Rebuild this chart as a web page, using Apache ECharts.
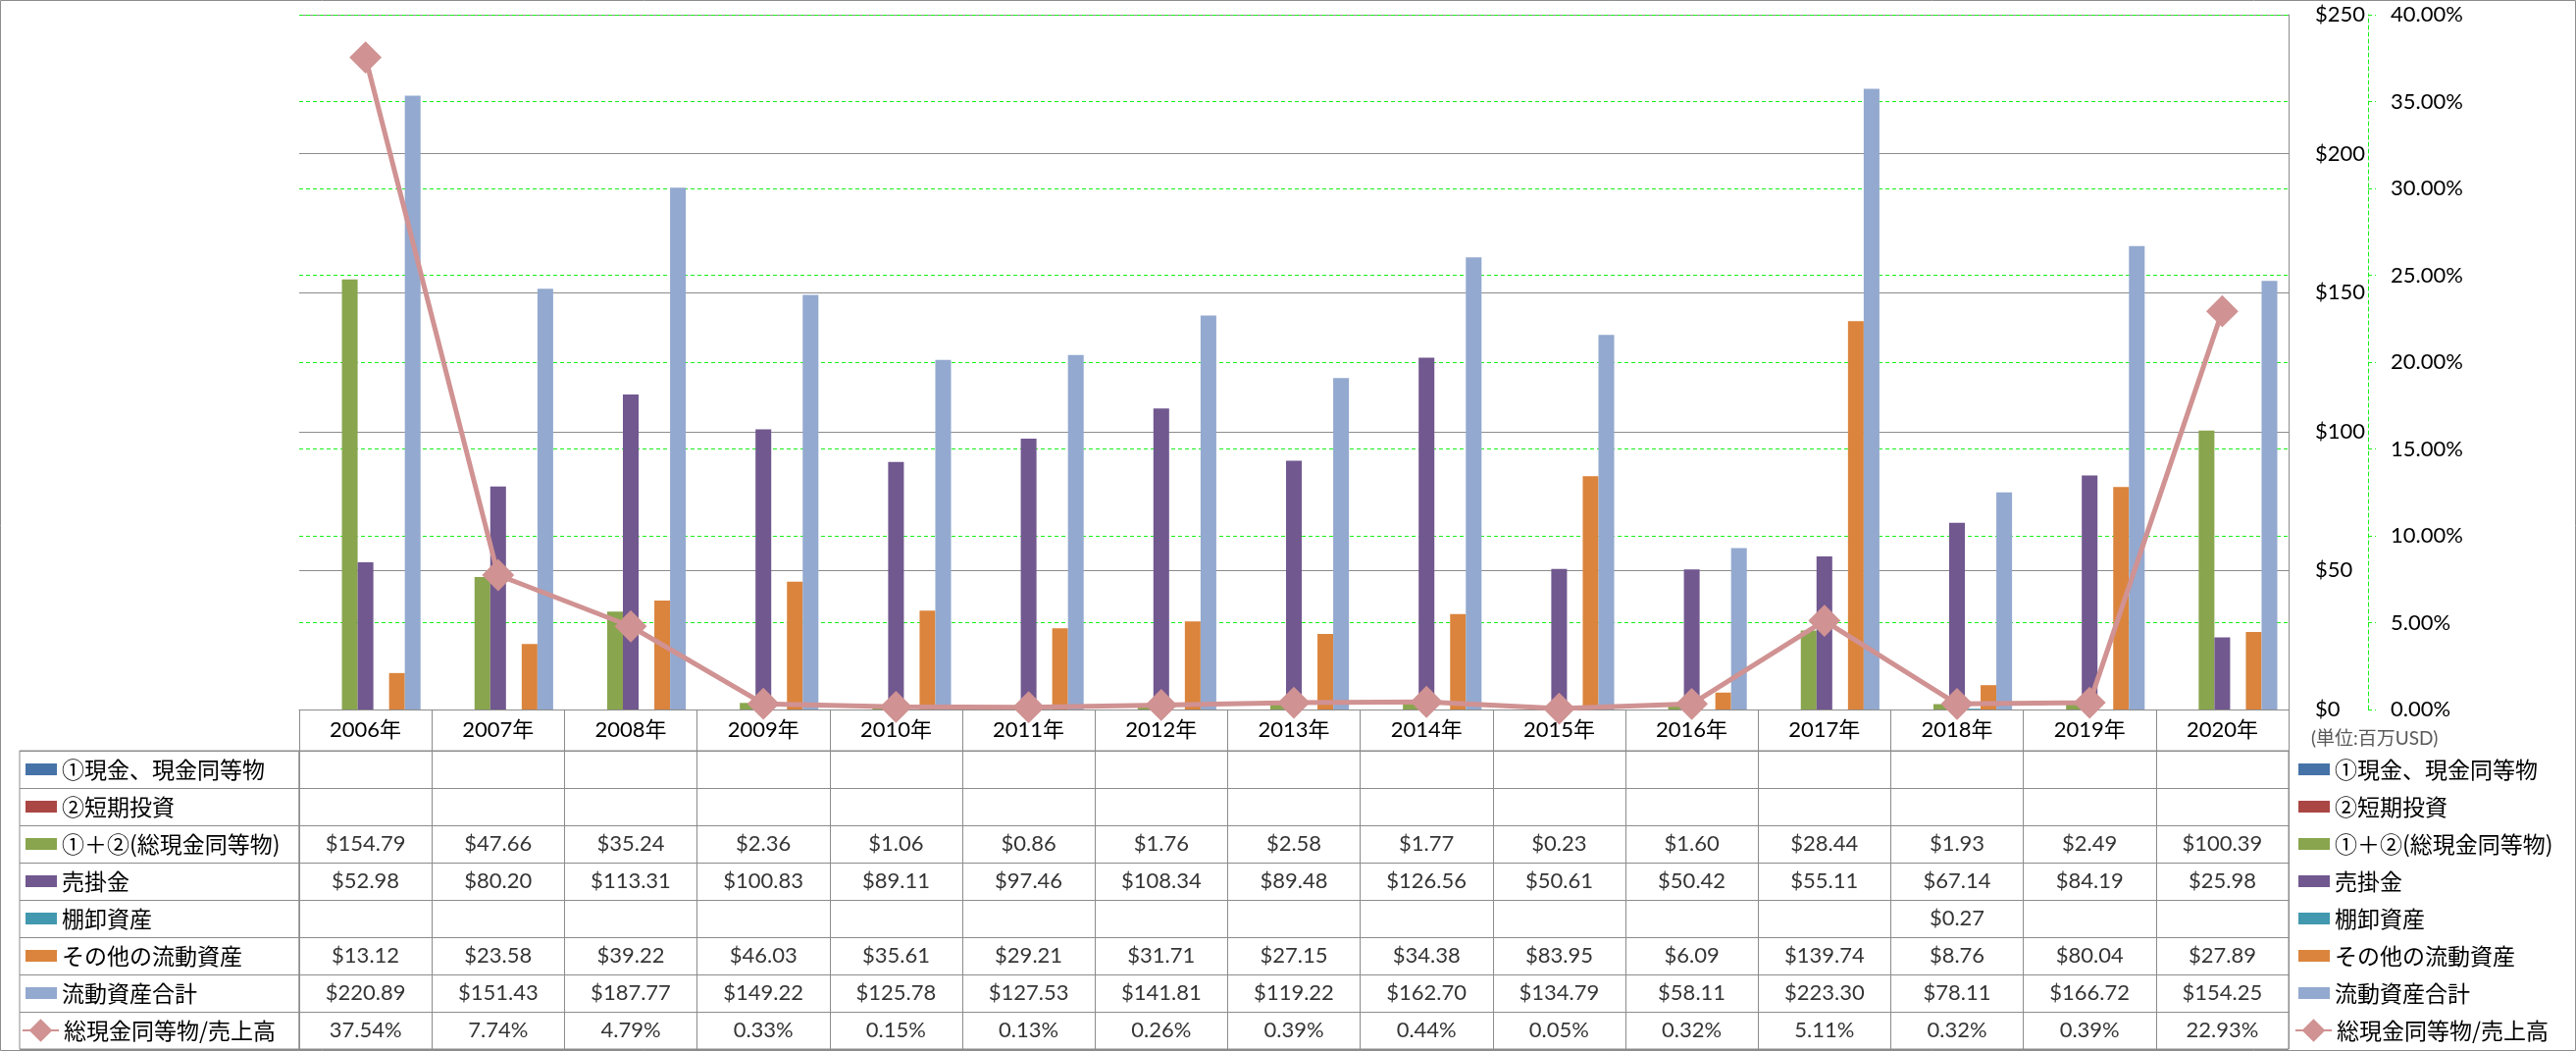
<!DOCTYPE html>
<html><head><meta charset="utf-8">
<script src="https://cdn.jsdelivr.net/npm/echarts@6/dist/echarts.min.js"></script>
<style>html,body{margin:0;padding:0;background:#fff}#c{width:2626px;height:1071px}</style>
</head><body><div id="c"></div>
<script>
const years = ['2006年','2007年','2008年','2009年','2010年','2011年','2012年','2013年','2014年','2015年','2016年','2017年','2018年','2019年','2020年'];
const names = ['①現金、現金同等物','②短期投資','①＋②(総現金同等物)','売掛金','棚卸資産','その他の流動資産','流動資産合計','総現金同等物/売上高'];
const cash        = [null,null,null,null,null,null,null,null,null,null,null,null,null,null,null];
const shortInv    = [null,null,null,null,null,null,null,null,null,null,null,null,null,null,null];
const totalCash   = [154.79,47.66,35.24,2.36,1.06,0.86,1.76,2.58,1.77,0.23,1.60,28.44,1.93,2.49,100.39];
const receivables = [52.98,80.20,113.31,100.83,89.11,97.46,108.34,89.48,126.56,50.61,50.42,55.11,67.14,84.19,25.98];
const inventory   = [null,null,null,null,null,null,null,null,null,null,null,null,0.27,null,null];
const otherCA     = [13.12,23.58,39.22,46.03,35.61,29.21,31.71,27.15,34.38,83.95,6.09,139.74,8.76,80.04,27.89];
const totalCA     = [220.89,151.43,187.77,149.22,125.78,127.53,141.81,119.22,162.70,134.79,58.11,223.30,78.11,166.72,154.25];
const ratio       = [37.54,7.74,4.79,0.33,0.15,0.13,0.26,0.39,0.44,0.05,0.32,5.11,0.32,0.39,22.93];
const dollarAxis = {min: 0, max: 250, interval: 50};
const pctAxis = {min: 0, max: 40, interval: 5};
const unitLabel = '(単位:百万USD)';

const colors = ['#4572A7','#AA4643','#89A54E','#71588F','#4198AF','#DB843D','#93A9CF'];
const lineColor = '#D09292';
const barData = [cash, shortInv, totalCash, receivables, inventory, otherCA, totalCA];
const rows = barData.concat([ratio]);

const cjk = "Lato, 'Noto Sans CJK JP', sans-serif";
const gridGray = '#8C8C8C';
const green = '#19F019';

const tableData = [];
rows.forEach((arr, r) => {
  arr.forEach((v, c) => {
    if (v !== null && v !== undefined) {
      tableData.push({value: [c, r], txt: r === 7 ? v.toFixed(2) + '%' : '$' + v.toFixed(2)});
    }
  });
});

const series = barData.map((arr, i) => ({
  name: names[i], type: 'bar', xAxisIndex: 0, yAxisIndex: 0,
  data: arr, barGap: '0%', barCategoryGap: '17%',
  itemStyle: {color: colors[i]}, z: 2
}));
series.push({
  name: names[7], type: 'line', xAxisIndex: 0, yAxisIndex: 1, data: ratio,
  symbol: 'diamond', symbolSize: [30, 30],
  lineStyle: {color: lineColor, width: 5},
  itemStyle: {color: lineColor, borderColor: lineColor, borderWidth: 2},
  z: 5
});
series.push({
  name: '_table', type: 'scatter', xAxisIndex: 1, yAxisIndex: 2,
  data: tableData, symbolSize: 0, silent: true,
  label: {show: true, position: 'inside', formatter: p => p.data.txt,
    color: '#000', fontSize: 22, fontFamily: cjk}
});

const legTxt = {fontSize: 23, lineHeight: 38, color: '#000', fontFamily: "'Noto Sans CJK JP', sans-serif"};
function barLegend(left) {
  return {data: names.slice(0, 7), orient: 'vertical', left: left, top: 765, itemWidth: 32, itemHeight: 12,
    itemGap: 0, padding: 0, icon: 'rect', textStyle: legTxt, selectedMode: false};
}
function lineLegend(left) {
  return {data: [names[7]], orient: 'vertical', left: left, top: 1031, itemWidth: 37, itemHeight: 26,
    itemGap: 0, padding: 0, textStyle: legTxt, selectedMode: false};
}

const option = {
  animation: false,
  backgroundColor: '#fff',
  title: {text: unitLabel, left: 2356, top: 743, padding: 0,
    textStyle: {fontSize: 19, fontWeight: 'normal', color: '#595959', fontFamily: cjk}},
  legend: [barLegend(26), lineLegend(22), barLegend(2343), lineLegend(2339)],
  grid: [
    {left: 305, right: 293, top: 15, bottom: 348},
    {left: 305, right: 293, top: 765, height: 304, show: true, borderColor: gridGray, borderWidth: 1},
    {left: 20, width: 285, top: 765, height: 304, show: true, borderColor: gridGray, borderWidth: 1}
  ],
  xAxis: [
    {type: 'category', gridIndex: 0, data: years, boundaryGap: true,
      axisLine: {show: true, lineStyle: {color: gridGray}},
      axisTick: {show: true, interval: 0, length: 42, lineStyle: {color: gridGray}},
      axisLabel: {interval: 0, margin: 10, fontSize: 22, color: '#000', fontFamily: cjk},
      splitLine: {show: false}},
    {type: 'category', gridIndex: 1, data: years, boundaryGap: true,
      axisLine: {show: false}, axisTick: {show: false}, axisLabel: {show: false},
      splitLine: {show: true, interval: 0, lineStyle: {color: gridGray}}},
    {type: 'category', gridIndex: 2, data: [''], show: false}
  ],
  yAxis: [
    {type: 'value', gridIndex: 0, position: 'right', min: dollarAxis.min, max: dollarAxis.max, interval: dollarAxis.interval,
      axisLine: {show: true, lineStyle: {color: gridGray}}, axisTick: {show: false},
      axisLabel: {margin: 27, fontSize: 22, color: '#000', fontFamily: cjk, formatter: v => '$' + v},
      splitLine: {show: true, lineStyle: {color: gridGray, width: 1}}},
    {type: 'value', gridIndex: 0, position: 'right', offset: 81, min: pctAxis.min, max: pctAxis.max, interval: pctAxis.interval,
      axisLine: {show: true, lineStyle: {color: green, type: [4, 3]}},
      axisTick: {show: true, inside: false, length: 8, lineStyle: {color: green, type: [4, 3]}},
      axisLabel: {margin: 23, fontSize: 22, color: '#000', fontFamily: cjk, formatter: v => v.toFixed(2) + '%'},
      splitLine: {show: true, lineStyle: {color: green, width: 1, type: [4, 3]}}},
    {type: 'category', gridIndex: 1, data: names, inverse: true,
      axisLine: {show: false}, axisTick: {show: false}, axisLabel: {show: false},
      splitLine: {show: true, interval: 0, lineStyle: {color: gridGray}}},
    {type: 'category', gridIndex: 2, data: names, inverse: true,
      axisLine: {show: false}, axisTick: {show: false}, axisLabel: {show: false},
      splitLine: {show: true, interval: 0, lineStyle: {color: gridGray}}}
  ],
  graphic: [{type: 'rect', silent: true, z: -1,
    shape: {x: 0.5, y: 0.5, width: 2625, height: 1070},
    style: {fill: null, stroke: gridGray, lineWidth: 1}}],
  series: series
};
const chart = echarts.init(document.getElementById('c'));
chart.setOption(option);
</script></body></html>
